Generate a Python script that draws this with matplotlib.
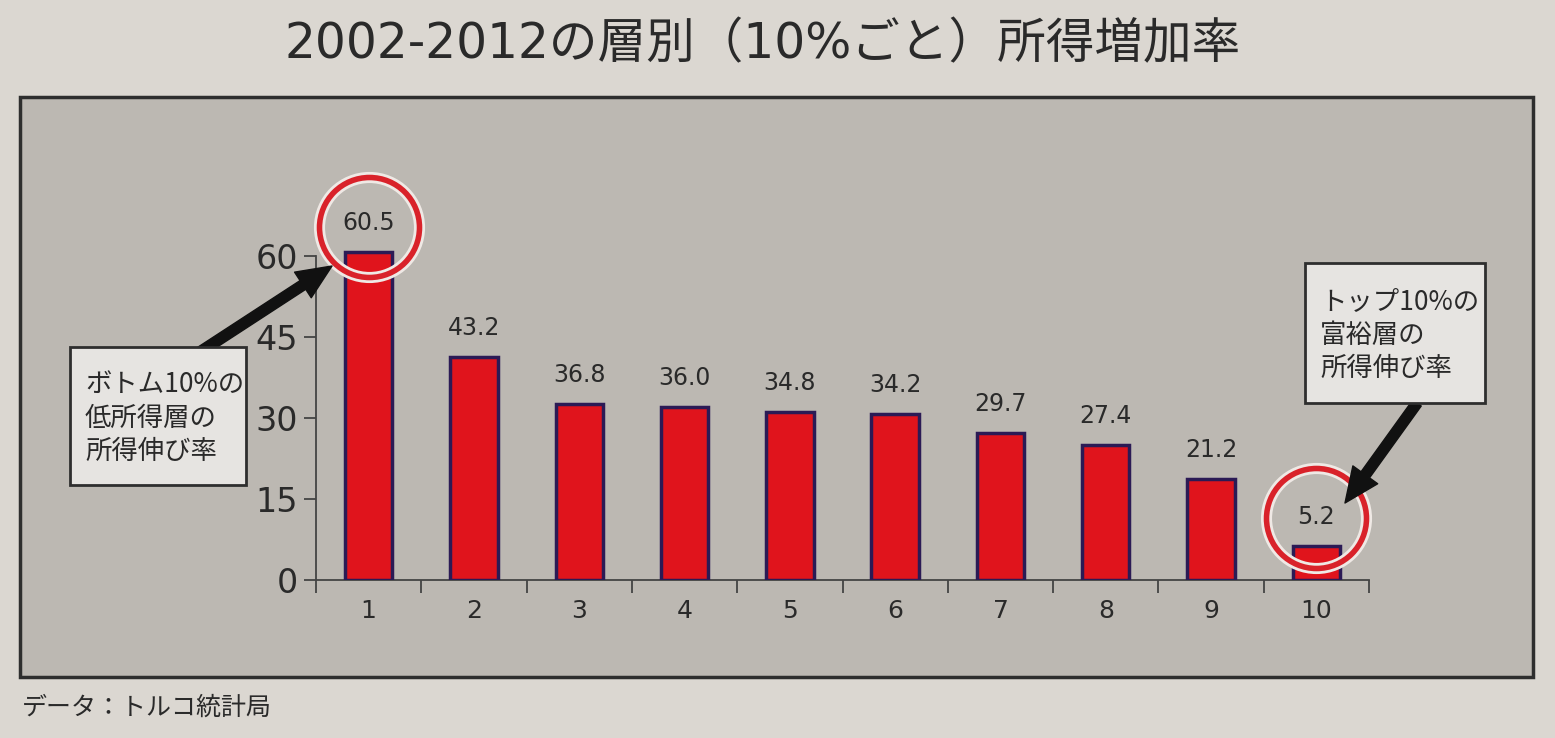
import numpy as np
import matplotlib.pyplot as plt
from matplotlib.patches import Rectangle, FancyArrowPatch

# DejaVu for the wide digits, Noto CJK for the Japanese
plt.rcParams['font.family'] = ['DejaVu Sans', 'Noto Sans CJK JP']

# data
deciles = [1, 2, 3, 4, 5, 6, 7, 8, 9, 10]
bar_heights = [60.7, 41.3, 32.6, 32.0, 31.1, 30.7, 27.2, 25.0, 18.7, 6.3]   # as drawn
value_labels = [60.5, 43.2, 36.8, 36.0, 34.8, 34.2, 29.7, 27.4, 21.2, 5.2]  # as printed
yticks = [0, 15, 30, 45, 60]

title = "2002-2012の層別（10%ごと）所得増加率"
note_left = "ボトム10%の\n低所得層の\n所得伸び率"
note_right = "トップ10%の\n富裕層の\n所得伸び率"
source = "データ：トルコ統計局"

W, H = 1555, 738
page_col = "#dbd7d1"
panel_col = "#bcb8b2"
bar_col = "#e0141c"
edge_col = "#2b1a55"
txt_col = "#2a2a2a"


def fx(x):
    return x / W


def fy(y):
    return 1 - y / H


fig = plt.figure(figsize=(W / 100, H / 100), dpi=100)
fig.patch.set_facecolor(page_col)

# grey panel behind the chart
fig.add_artist(Rectangle((fx(20), fy(677)), fx(1533) - fx(20), fy(97) - fy(677),
                         transform=fig.transFigure, facecolor=panel_col,
                         edgecolor="#2e2e2e", linewidth=2.5, zorder=0))

# axes: x 316..1369 px, y=0 at 580 px, 5.4 px per unit
ymax = 65
ax = fig.add_axes([fx(316), fy(580), fx(1369) - fx(316), ymax * 5.4 / H])
ax.set_facecolor("none")

ax.bar(deciles, bar_heights, width=0.45, color=bar_col, edgecolor=edge_col,
       linewidth=2.5, zorder=3)
for x, h, v in zip(deciles, bar_heights, value_labels):
    ax.annotate(f"{v:.1f}", (x, h), xytext=(0, 21), textcoords="offset points",
                ha="center", va="center", fontsize=17, color=txt_col, zorder=5)

ax.set_xlim(0.5, 10.5)
ax.set_ylim(0, ymax)
ax.set_yticks(yticks)
ax.set_xticks(deciles)
ax.set_xticks(np.arange(0.5, 11, 1), minor=True)
ax.tick_params(axis="x", which="major", length=0, pad=14, labelsize=18,
               labelcolor=txt_col)
ax.tick_params(axis="x", which="minor", length=9, width=1.3, color="#444444",
               direction="out")
ax.tick_params(axis="y", length=9, width=1.3, color="#444444", pad=4,
               labelsize=24, labelcolor=txt_col)
for s in ["top", "right"]:
    ax.spines[s].set_visible(False)
ax.spines["left"].set_bounds(0, 60)
for s in ["left", "bottom"]:
    ax.spines[s].set_color("#444444")
    ax.spines[s].set_linewidth(1.3)

# red rings around the first and last value
for x, yc in [(1, 65.4), (10, 11.5)]:
    ax.plot([x], [yc], "o", ms=72, mfc="none", mec="#efe9e5", mew=8,
            clip_on=False, zorder=6)
    ax.plot([x], [yc], "o", ms=72, mfc="none", mec="#d9222a", mew=4,
            clip_on=False, zorder=7)

# arrows
arrow_style = "simple,head_width=2.2,head_length=2.5,tail_width=0.75"
for a, b in [((200, 352), (332, 266)), ((1417, 403), (1345, 503))]:
    fig.add_artist(FancyArrowPatch((fx(a[0]), fy(a[1])), (fx(b[0]), fy(b[1])),
                                   transform=fig.transFigure, arrowstyle=arrow_style,
                                   mutation_scale=10, color="#111111",
                                   shrinkA=0, shrinkB=0, zorder=8))

# note boxes
for (x0, y0, x1, y1), text, tx in [((70, 347, 246, 485), note_left, 85),
                                   ((1305, 263, 1485, 403), note_right, 1320)]:
    fig.text(fx(tx), fy((y0 + y1) / 2 + 2), text, ha="left", va="center",
             fontsize=19, color=txt_col, linespacing=1.3, zorder=10,
             family=['Noto Sans CJK JP', 'DejaVu Sans'])
    fig.add_artist(Rectangle((fx(x0), fy(y1)), fx(x1) - fx(x0), fy(y0) - fy(y1),
                             transform=fig.transFigure, facecolor="#e6e4e1",
                             edgecolor="#2e2e2e", linewidth=2, zorder=9))

fig.text(fx(763), fy(44), title, ha="center", va="center", fontsize=35,
         color="#2a2a2a")
fig.text(fx(22), fy(708), source, ha="left", va="center", fontsize=18,
         color="#2a2a2a")

fig.savefig("out.png", dpi=100, facecolor=fig.get_facecolor())
